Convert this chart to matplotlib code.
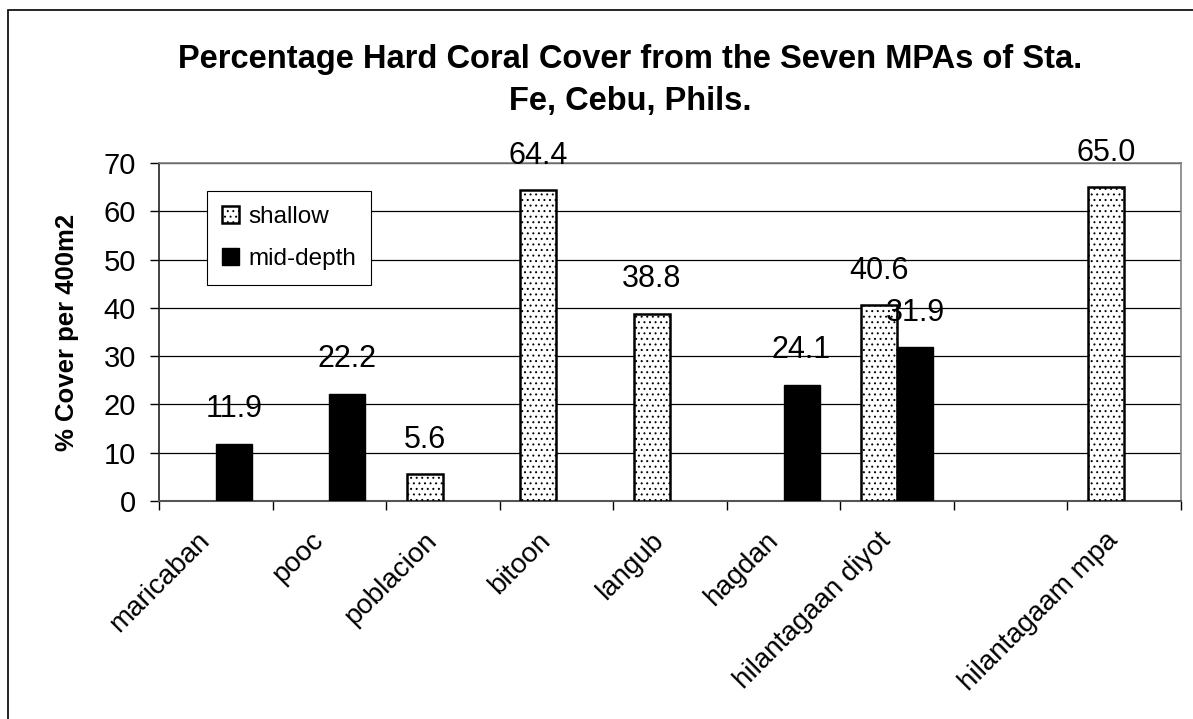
import matplotlib
matplotlib.use('Agg')
import matplotlib.pyplot as plt
import numpy as np
from matplotlib.patches import Rectangle
from matplotlib.transforms import ScaledTranslation

plt.rcParams['font.family'] = ['Liberation Sans', 'DejaVu Sans']
plt.rcParams['hatch.linewidth'] = 0.7
plt.rcParams['hatch.color'] = '#333333'

sites = ['maricaban', 'pooc', 'poblacion', 'bitoon', 'langub', 'hagdan',
         'hilantagaan diyot', '', 'hilantagaam mpa']
shallow = [np.nan, np.nan, 5.6, 64.4, 38.8, np.nan, 40.6, np.nan, 65.0]
mid_depth = [11.9, 22.2, np.nan, np.nan, np.nan, 24.1, 31.9, np.nan, np.nan]
yticks = [0, 10, 20, 30, 40, 50, 60, 70]
title1 = 'Percentage Hard Coral Cover from the Seven MPAs of Sta.'
title2 = 'Fe, Cebu, Phils.'

W, H = 1193, 719
fig = plt.figure(figsize=(W/100, H/100), dpi=100)
ax = fig.add_axes([159/W, 1-501/H, 1022/W, 338/H])

x = np.arange(len(sites))
w = 0.317
ax.bar(x-w/2, shallow, w, color='white', edgecolor='black', linewidth=1.8,
       hatch='...', label='shallow', zorder=3)
ax.bar(x+w/2, mid_depth, w, color='black', edgecolor='black', linewidth=1,
       label='mid-depth', zorder=3)

for xs, vals in ((x-w/2, shallow), (x+w/2, mid_depth)):
    for xi, v in zip(xs, vals):
        if not np.isnan(v):
            ax.annotate('%.1f' % v, (xi, v), xytext=(0, 19), textcoords='offset points',
                        ha='center', va='baseline', fontsize=22, zorder=5,
                        annotation_clip=False)

ax.set_xlim(-0.5, len(sites)-0.5)
ax.set_ylim(0, 70)
ax.set_yticks(yticks)
ax.yaxis.grid(True, color='black', linewidth=0.9, zorder=0)
ax.set_axisbelow(True)
ax.tick_params(axis='y', direction='out', length=6.5, width=1, pad=10, labelsize=21)

# ticks between categories, labels at centres
ax.set_xticks(np.arange(-0.5, len(sites)), minor=False)
ax.set_xticklabels([])
ax.set_xticks(x, minor=True)
ax.set_xticklabels(sites, minor=True, rotation=45, ha='right', rotation_mode='anchor',
                   fontsize=20)
ax.tick_params(axis='x', which='major', direction='out', length=6.5, width=1)
ax.tick_params(axis='x', which='minor', length=0, pad=19)
shift = ScaledTranslation(-0.19, 0, fig.dpi_scale_trans)
for lab in ax.get_xticklabels(minor=True):
    lab.set_transform(lab.get_transform() + shift)

for s in ('top', 'right'):
    ax.spines[s].set_color('#808080')
    ax.spines[s].set_linewidth(1.2)
ax.spines['left'].set_color('#222222')
ax.spines['bottom'].set_color('#555555')
ax.spines['left'].set_linewidth(1.2)
ax.spines['bottom'].set_linewidth(1.5)

ax.set_ylabel('% Cover per 400m2', fontsize=18.5, fontweight='bold', labelpad=18)

fig.text(630/W, 1-68/H, title1, ha='center', va='baseline', fontsize=23.5, fontweight='bold')
fig.text(630/W, 1-110/H, title2, ha='center', va='baseline', fontsize=23.5, fontweight='bold')

leg = ax.legend(loc='upper left', bbox_to_anchor=(0.047, 0.917), fontsize=17.5,
                frameon=True, fancybox=False, edgecolor='black', framealpha=1,
                handlelength=0.7, handleheight=0.7, handletextpad=0.4,
                labelspacing=0.85, borderpad=0.6, borderaxespad=0)
leg.get_frame().set_linewidth(0.8)

fig.add_artist(Rectangle((8/W, -0.1), 1.2, 1.1-10/H, transform=fig.transFigure,
                         fill=False, edgecolor='black', linewidth=1.2))

fig.savefig('out.png', dpi=100)
